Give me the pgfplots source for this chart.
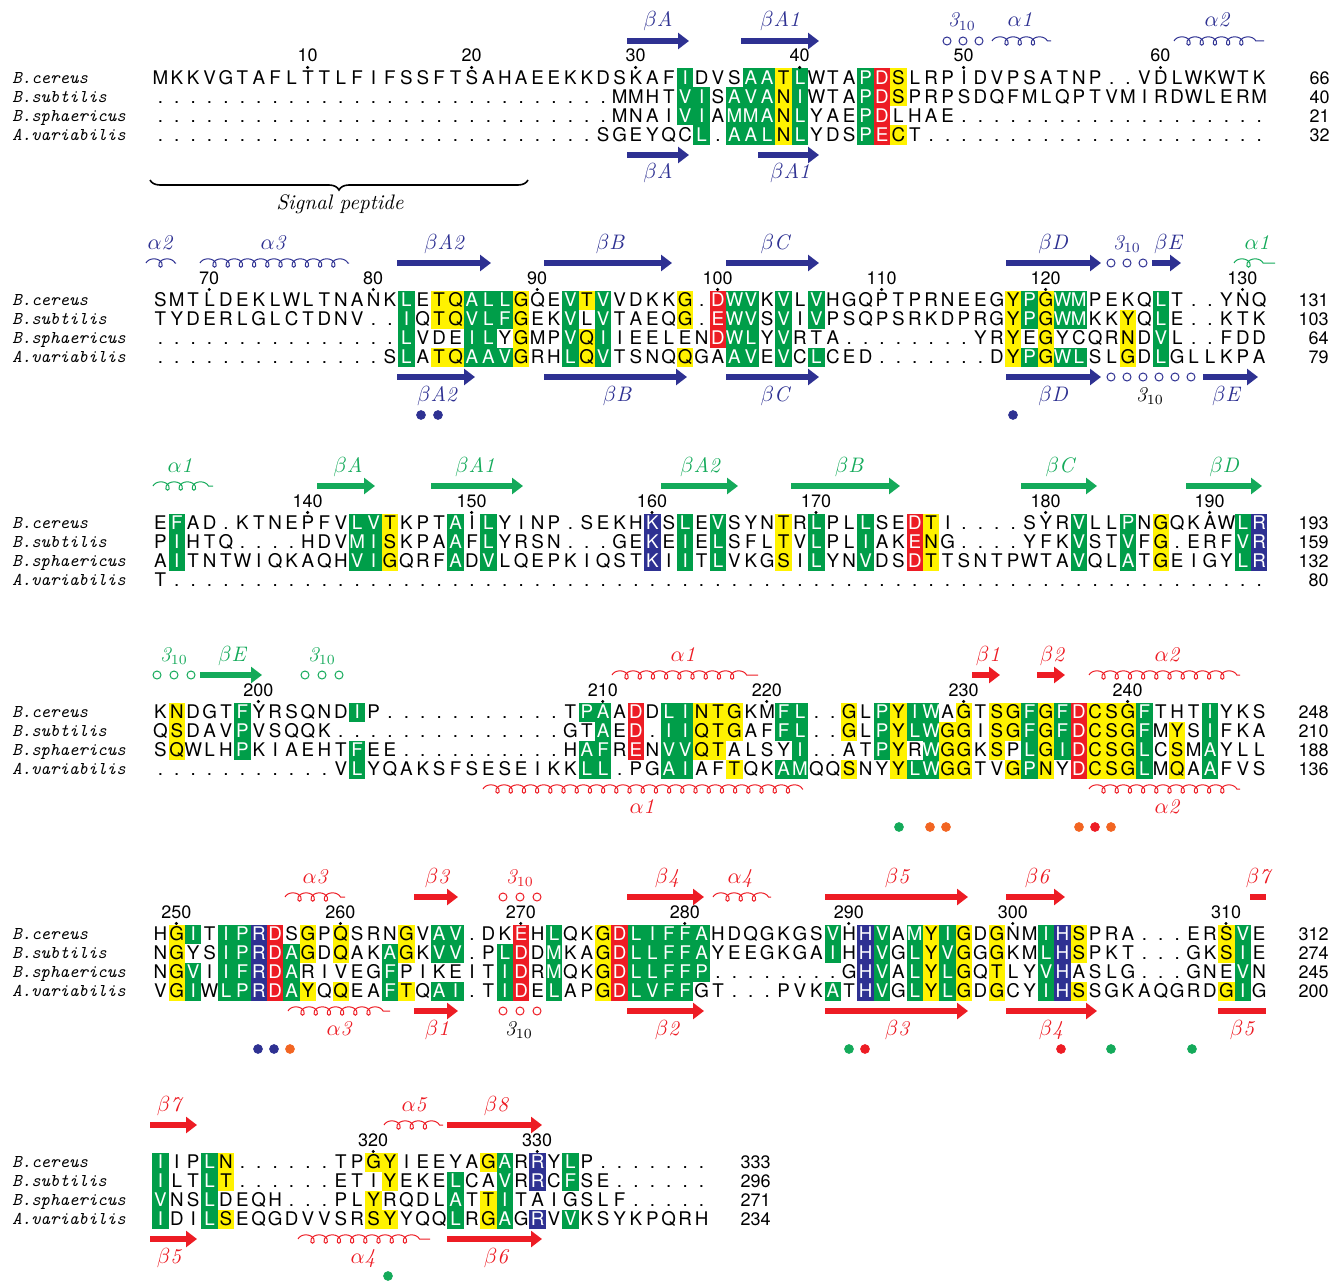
\documentclass[border=0pt]{standalone}
\usepackage{pgfplots}
\pgfplotsset{compat=1.18}
\usepackage{fontspec}
\usetikzlibrary{arrows.meta,decorations.pathmorphing,decorations.pathreplacing}
\newfontfamily\heros{TeX Gyre Heros}
\definecolor{sgreen}{RGB}{0,158,73}
\definecolor{syellow}{RGB}{255,242,0}
\definecolor{sred}{RGB}{237,28,36}
\definecolor{sblue}{RGB}{46,49,146}
\definecolor{anavy}{RGB}{46,49,146}
\definecolor{agreen}{RGB}{20,170,90}
\definecolor{ared}{RGB}{237,28,36}
\definecolor{aorange}{RGB}{242,101,34}
\newlength\cw \setlength\cw{8.2bp}
\def\cellc#1#2#3{\rlap{\color{#1}\rule[-1.4bp]{\cw}{9.5bp}}\makebox[\cw]{\color{#2}#3}}
\def\cell#1#2{\if#1|\else
  \if#2g\cellc{sgreen}{white}{#1}\else
  \if#2y\cellc{syellow}{black}{#1}\else
  \if#2r\cellc{sred}{white}{#1}\else
  \if#2b\cellc{sblue}{white}{#1}\else
  \makebox[\cw]{#1}\fi\fi\fi\fi\fi}
\def\seqloop#1#2\relax#3#4\relax{\cell{#1}{#3}\ifx\relax#2\relax\else\seqloop#2\relax#4\relax\fi}
\newcommand\seqrow[2]{\seqloop#1\relax#2\relax}
\newcommand\srow[3]{\node[anchor=base west,inner sep=0pt,font=\heros\fontsize{9.4bp}{11bp}\selectfont] at (axis cs:151.8,#1) {\seqrow{#2}{#3}};}
\newcommand\spn[2]{\node[anchor=base west,inner sep=0pt,font=\ttfamily\itshape\fontsize{9bp}{10bp}\selectfont] at (axis cs:12,#1) {#2};}
\newcommand\rnum[3]{\node[anchor=base east,inner sep=0pt,font=\heros\fontsize{9bp}{10bp}\selectfont] at (axis cs:#1,#2) {#3};}
\newcommand\tlab[3]{\node[anchor=base,inner sep=0pt,font=\heros\fontsize{9bp}{10bp}\selectfont] at (axis cs:#1,#2) {#3};}
\newcommand\strand[4]{\addplot[#1,no marks,line width=3.2bp,-{Triangle[length=5.5bp,width=8bp]}] coordinates {(#2,#4) (#3,#4)};}
\newcommand\sbar[4]{\addplot[#1,no marks,line width=3.2bp] coordinates {(#2,#4) (#3,#4)};}
\newcommand\helix[4]{\addplot[#1,no marks,line width=0.5bp,decorate,decoration={coil,aspect=1.1,amplitude=2.1bp,segment length=6.6bp}] coordinates {(#2,#4) (#3,#4)};}
\newcommand\lbl[4]{\node[anchor=base,text=#1,inner sep=0pt,font=\fontsize{10.5bp}{12bp}\selectfont] at (axis cs:#2,#3) {$#4$};}
\newcommand\circs[2]{\addplot[#1,only marks,mark=o,mark size=2bp,mark options={line width=0.5bp}] coordinates {#2};}
\newcommand\bdots[2]{\addplot[#1,only marks,mark=*,mark size=2.2bp] coordinates {#2};}
\begin{document}
\begin{tikzpicture}
\begin{axis}[x=0.5bp,y=0.5bp,xmin=0,xmax=1332,ymin=0,ymax=1281,y dir=reverse,hide axis,clip=false]
\addplot[draw=none,no marks,forget plot] coordinates {(0,0) (1332,1281)};
% ---------------- Block 1 ----------------
\strand{anavy}{627}{689}{41}\lbl{anavy}{658}{27}{\beta\mathit{A}}
\strand{anavy}{741}{819}{41}\lbl{anavy}{780}{27}{\beta\mathit{A1}}
\circs{anavy}{(947,41) (963,41) (979,41)}\lbl{anavy}{962}{27}{\mathit{3}_{10}}
\helix{anavy}{992}{1051}{41}\lbl{anavy}{1020}{27}{\alpha\mathit{1}}
\helix{anavy}{1174}{1264}{41}\lbl{anavy}{1217}{27}{\alpha\mathit{2}}
\strand{anavy}{627}{689}{155}\lbl{anavy}{658}{179}{\beta\mathit{A}}
\strand{anavy}{758}{819}{155}\lbl{anavy}{790}{179}{\beta\mathit{A1}}
\addplot[black,no marks,line width=0.8bp,decorate,decoration={brace,mirror,amplitude=5bp}] coordinates {(150,180) (528,180)};
\node[font=\itshape\fontsize{10.5bp}{12bp}\selectfont] at (axis cs:340,204) {Signal peptide};
\addplot[black,only marks,mark=*,mark size=0.55bp] coordinates {(307.6,67.5) (471.6,67.5) (635.6,67.5) (799.6,67.5) (963.6,67.5) (1160.4,67.5)};
\tlab{307.6}{62}{10}\tlab{471.6}{62}{20}\tlab{635.6}{62}{30}\tlab{799.6}{62}{40}\tlab{963.6}{62}{50}\tlab{1160.4}{62}{60}
\spn{83.5}{B.cereus}\spn{102.5}{B.subtilis}\spn{121.5}{B.sphaericus}\spn{140.5}{A.variabilis}
\srow{84.7}{MKKVGTAFLT|TLFIFSSFTS|AHAEEKKDSK|AFIDVSAATL|WTAPDSLRPI|DVPSATNP..|VDLWKWTK}{..........|..........|..........|..g...ggyg|...gry....|..........|........}
\srow{103.7}{..........|..........|........MM|HTVISAVANI|WTAPDSPRPS|DQFMLQPTVM|IRDWLERM}{..........|..........|..........|..gg.gggyg|...gry....|..........|........}
\srow{122.7}{..........|..........|........MN|AIVIAMMANL|YAEPDLHAE.|..........|........}{..........|..........|..........|..gg.gggyg|...gr.....|..........|........}
\srow{141.7}{..........|..........|.......SGE|YQCL.AALNL|YDSPECT...|..........|........}{..........|..........|..........|...g.gggyg|...gry....|..........|........}
\rnum{1330}{84.7}{66}\rnum{1330}{103.7}{40}\rnum{1330}{122.7}{21}\rnum{1330}{141.7}{32}
% ---------------- Block 2 ----------------
\helix{anavy}{146}{176}{263}\lbl{anavy}{160}{249}{\alpha\mathit{2}}
\helix{anavy}{200}{349}{263}\lbl{anavy}{273}{249}{\alpha\mathit{3}}
\strand{anavy}{397}{491}{263}\lbl{anavy}{444}{249}{\beta\mathit{A2}}
\strand{anavy}{544}{672}{263}\lbl{anavy}{610}{249}{\beta\mathit{B}}
\strand{anavy}{726}{819}{263}\lbl{anavy}{775}{249}{\beta\mathit{C}}
\strand{anavy}{1006}{1101}{263}\lbl{anavy}{1053}{249}{\beta\mathit{D}}
\circs{anavy}{(1111,263) (1127,263) (1143,263)}\lbl{anavy}{1127}{249}{\mathit{3}_{10}}
\strand{anavy}{1152}{1181}{263}\lbl{anavy}{1168}{249}{\beta\mathit{E}}
\helix{agreen}{1234}{1275}{263}\lbl{agreen}{1257}{249}{\alpha\mathit{1}}
\strand{anavy}{397}{475}{377}\lbl{anavy}{437}{401}{\beta\mathit{A2}}
\strand{anavy}{544}{687}{377}\lbl{anavy}{617}{401}{\beta\mathit{B}}
\strand{anavy}{726}{819}{377}\lbl{anavy}{775}{401}{\beta\mathit{C}}
\strand{anavy}{1006}{1101}{377}\lbl{anavy}{1053}{401}{\beta\mathit{D}}
\circs{anavy}{(1111,377) (1127,377) (1143,377) (1159,377) (1175,377) (1191,377)}\lbl{black}{1150}{401}{\mathit{3}_{10}}
\strand{anavy}{1203}{1258}{377}\lbl{anavy}{1226}{401}{\beta\mathit{E}}
\bdots{anavy}{(421,415) (438,415) (1013,415)}
\addplot[black,only marks,mark=*,mark size=0.55bp] coordinates {(209.2,289.5) (373.2,289.5) (537.2,289.5) (717.6,289.5) (881.6,289.5) (1045.6,289.5) (1242.4,289.5)};
\tlab{209.2}{284}{70}\tlab{373.2}{284}{80}\tlab{537.2}{284}{90}\tlab{717.6}{284}{100}\tlab{881.6}{284}{110}\tlab{1045.6}{284}{120}\tlab{1242.4}{284}{130}
\spn{305.5}{B.cereus}\spn{324.5}{B.subtilis}\spn{343.5}{B.sphaericus}\spn{362.5}{A.variabilis}
\srow{306.7}{SMTLDEKLWL|TNANKLETQA|LLGQEVTVVD|KKG.DWVKVL|VHGQPTPRNE|EGYPGWMPEK|QLT..YNQ}{..........|.....g.yyg|ggy..gyg..|..y.rgg.g.|g.........|..ygygg...|.g......}
\srow{325.7}{TYDERLGLCT|DNV..IQTQV|LFGEKVLVTA|EQG.EWVSVI|VPSQPSRKDP|RGYPGWMKKY|QLE..KTK}{..........|.....g.yyg|ggy..g.g..|..y.rgg.g.|g.........|..ygygg..y|.g......}
\srow{344.7}{..........|.....LVDEI|LYGMPVQIIE|ELENDWLYVR|TA........|YRYEGYCQRN|DVL..FDD}{..........|.....g...g|g.y..gyg..|....rgg.g.|..........|..y.y....y|.g......}
\srow{363.7}{..........|....SLATQA|AVGRHLQVTS|NQQGAAVEVC|LCED......|.DYPGWLSLG|DLGLLKPA}{..........|.....g.yyg|ggy..gyg..|..y..gg.g.|g.........|..ygygg..y|.g......}
\rnum{1329}{306.7}{131}\rnum{1329}{325.7}{103}\rnum{1329}{344.7}{64}\rnum{1329}{363.7}{79}
% ---------------- Block 3 ----------------
\helix{agreen}{153}{213}{486}\lbl{agreen}{180}{472}{\alpha\mathit{1}}
\strand{agreen}{317}{375}{486}\lbl{agreen}{348}{472}{\beta\mathit{A}}
\strand{agreen}{431}{523}{486}\lbl{agreen}{475}{472}{\beta\mathit{A1}}
\strand{agreen}{661}{738}{486}\lbl{agreen}{700}{472}{\beta\mathit{A2}}
\strand{agreen}{791}{900}{486}\lbl{agreen}{849}{472}{\beta\mathit{B}}
\strand{agreen}{1021}{1097}{486}\lbl{agreen}{1060}{472}{\beta\mathit{C}}
\strand{agreen}{1186}{1262}{486}\lbl{agreen}{1224}{472}{\beta\mathit{D}}
\addplot[black,only marks,mark=*,mark size=0.55bp] coordinates {(307.6,512.5) (471.6,512.5) (652,512.5) (816,512.5) (1045.6,512.5) (1209.6,512.5)};
\tlab{307.6}{507}{140}\tlab{471.6}{507}{150}\tlab{652}{507}{160}\tlab{816}{507}{170}\tlab{1045.6}{507}{180}\tlab{1209.6}{507}{190}
\spn{528.5}{B.cereus}\spn{547.5}{B.subtilis}\spn{566.5}{B.sphaericus}\spn{585.5}{A.variabilis}
\srow{529.7}{EFAD.KTNEP|FVLVTKPTAI|LYINP.SEKH|KSLEVSYNTR|LPLLSEDTI.|...SYRVLLP|NGQKAWLR}{.g........|..ggy...g.|g.........|b.g.g...y.|g..g..ry..|......g..g|.y....gb}
\srow{548.7}{PIHTQ....H|DVMISKPAAF|LYRSN...GE|KEIELSFLTV|LPLIAKENG.|...YFKVSTV|FG.ERFVR}{.g........|..ggy...g.|g.........|b.g.g...y.|g..g..ry..|......g..g|.y....gb}
\srow{567.7}{AITNTWIQKA|QHVIGQRFAD|VLQEPKIQST|KIITLVKGSI|LYNVDSDTTS|NTPWTAVQLA|TGEIGYLR}{.g........|..ggy...g.|g.........|b.g.g...y.|g..g..ry..|......g..g|.y....gb}
\srow{586.7}{T.........|..........|..........|..........|..........|..........|........}{..........|..........|..........|..........|..........|..........|........}
\rnum{1329}{529.7}{193}\rnum{1329}{548.7}{159}\rnum{1329}{567.7}{132}\rnum{1329}{586.7}{80}
% ---------------- Block 4 ----------------
\circs{agreen}{(157,675) (174,675) (191,675)}\lbl{agreen}{174}{661}{\mathit{3}_{10}}
\strand{agreen}{200}{262}{675}\lbl{agreen}{232}{661}{\beta\mathit{E}}
\circs{agreen}{(305,675) (322,675) (339,675)}\lbl{agreen}{322}{661}{\mathit{3}_{10}}
\helix{ared}{612}{758}{675}\lbl{ared}{683}{661}{\alpha\mathit{1}}
\strand{ared}{972}{1000}{675}\lbl{ared}{988}{661}{\beta\mathit{1}}
\strand{ared}{1037}{1065}{675}\lbl{ared}{1052}{661}{\beta\mathit{2}}
\helix{ared}{1089}{1240}{675}\lbl{ared}{1167}{661}{\alpha\mathit{2}}
\helix{ared}{483}{803}{789}\lbl{ared}{642}{813}{\alpha\mathit{1}}
\helix{ared}{1089}{1240}{789}\lbl{ared}{1167}{813}{\alpha\mathit{2}}
\bdots{agreen}{(899,827)}
\bdots{aorange}{(930,827) (946,827) (1079,827) (1111,827)}
\bdots{ared}{(1095,827)}
\addplot[black,only marks,mark=*,mark size=0.55bp] coordinates {(258.4,701.5) (602.8,701.5) (766.8,701.5) (963.6,701.5) (1127.6,701.5)};
\tlab{258.4}{696}{200}\tlab{602.8}{696}{210}\tlab{766.8}{696}{220}\tlab{963.6}{696}{230}\tlab{1127.6}{696}{240}
\spn{717.5}{B.cereus}\spn{736.5}{B.subtilis}\spn{755.5}{B.sphaericus}\spn{774.5}{A.variabilis}
\srow{718.7}{KNDGTFYRSQ|NDIP......|.....TPAAD|DLINTGKMFL|..GLPYIWAG|TSGFGFDCSG|FTHTIYKS}{.y...g....|..g.......|......gg.r|.ggyyy..gg|..y.gygg.y|.yygygryyy|g...g...}
\srow{737.7}{QSDAVPVSQQ|K.........|.....GTAED|.IIQTGAFFL|..GLPYLWGG|ISGFGFDCSG|FMYSIFKA}{.y...g....|..........|.......g.r|.ggyyy..gg|..y.gyggyy|.yygygryyy|g.y.g...}
\srow{756.7}{SQWLHPKIAE|HTFEE.....|.....HAFRE|NVVQTALSYI|..ATPYRWGG|KSPLGIDCSG|LCSMAYLL}{.y...g....|..g.......|......gg.r|.ggyy....g|....gy.gyy|.y.gygryyy|g.y.g...}
\srow{775.7}{..........|.VLYQAKSFS|ESEIKKLL.P|GAIAFTQKAM|QQSNYYLWGG|TVGPNYDCSG|LMQAAFVS}{..........|..g.......|......gg..|.gg..y..gg|..y..yggyy|..ygy.ryyy|g.y.g...}
\rnum{1329}{718.7}{248}\rnum{1329}{737.7}{210}\rnum{1329}{756.7}{188}\rnum{1329}{775.7}{136}
% ---------------- Block 5 ----------------
\helix{ared}{285}{345}{897}\lbl{ared}{315}{883}{\alpha\mathit{3}}
\strand{ared}{414}{458}{897}\lbl{ared}{437}{883}{\beta\mathit{3}}
\circs{ared}{(503,897) (520,897) (537,897)}\lbl{ared}{520}{883}{\mathit{3}_{10}}
\strand{ared}{627}{704}{897}\lbl{ared}{667}{883}{\beta\mathit{4}}
\helix{ared}{713}{771}{897}\lbl{ared}{740}{883}{\alpha\mathit{4}}
\strand{ared}{825}{968}{897}\lbl{ared}{897}{883}{\beta\mathit{5}}
\strand{ared}{1006}{1065}{897}\lbl{ared}{1037}{883}{\beta\mathit{6}}
\sbar{ared}{1250}{1266}{897}\lbl{ared}{1258}{883}{\beta\mathit{7}}
\helix{ared}{288}{390}{1011}\lbl{ared}{339}{1035}{\alpha\mathit{3}}
\strand{ared}{414}{458}{1011}\lbl{ared}{437}{1035}{\beta\mathit{1}}
\circs{ared}{(503,1011) (520,1011) (537,1011)}\lbl{black}{519}{1035}{\mathit{3}_{10}}
\strand{ared}{627}{704}{1011}\lbl{ared}{667}{1035}{\beta\mathit{2}}
\strand{ared}{825}{968}{1011}\lbl{ared}{897}{1035}{\beta\mathit{3}}
\strand{ared}{1006}{1097}{1011}\lbl{ared}{1051}{1035}{\beta\mathit{4}}
\sbar{ared}{1218}{1266}{1011}\lbl{ared}{1242}{1035}{\beta\mathit{5}}
\bdots{anavy}{(258,1049) (274,1049)}
\bdots{aorange}{(290,1049)}
\bdots{agreen}{(849,1049) (1111,1049) (1192,1049)}
\bdots{ared}{(865,1049) (1061,1049)}
\addplot[black,only marks,mark=*,mark size=0.55bp] coordinates {(176.4,923.5) (340.4,923.5) (520.8,923.5) (684.8,923.5) (848.8,923.5) (1012.8,923.5) (1226,923.5)};
\tlab{176.4}{918}{250}\tlab{340.4}{918}{260}\tlab{520.8}{918}{270}\tlab{684.8}{918}{280}\tlab{848.8}{918}{290}\tlab{1012.8}{918}{300}\tlab{1226}{918}{310}
\spn{939.5}{B.cereus}\spn{958.5}{B.subtilis}\spn{977.5}{B.sphaericus}\spn{996.5}{A.variabilis}
\srow{940.7}{HGITIPRDSG|PQSRNGVAV.|DKEHLQKGDL|IFFAHDQGKG|SVHHVAMYIG|DGNMIHSPRA|...ERSVE}{.yg.ggbr.y|.y...y.gg.|..r.g..yrg|gggg......|.g.bg.gygy|.y..gby...|.....yg.}
\srow{959.7}{NGYSIPRDAG|DQAKAGKVV.|PLDDMKAGDL|LFFAYEEGKG|AIHHVGLYVG|GGKMLHSPKT|...GKSIE}{.y..ggbrgy|.y..gy.gg.|.gr.g..yrg|gggg......|.g.bg.gygy|.y..gby...|.....yg.}
\srow{978.7}{NGVIIFRDAR|IVEGFPIKEI|TIDRMQKGDL|LFFP......|..GHVALYLG|QTLYVHASLG|...GNEVN}{.yg.ggbrg.|....g.....|.gr.g..yrg|gggg......|...bg.gygy|.y..gb....|......g.}
\srow{997.7}{VGIWLPRDAY|QQEAFTQAI.|TIDELAPGDL|VFFGT...PV|KATHVGLYLG|DGCYIHSSGK|AQGRDGIG}{.yg.ggbrgy|.y..gy.gg.|.gr.g..yrg|ggg.......|.g.bg.gygy|.y..gby...|.....yg.}
\rnum{1329}{940.7}{312}\rnum{1329}{959.7}{274}\rnum{1329}{978.7}{245}\rnum{1329}{997.7}{200}
% ---------------- Block 6 ----------------
\strand{ared}{150}{197}{1125}\lbl{ared}{169}{1111}{\beta\mathit{7}}
\helix{ared}{384}{443}{1125}\lbl{ared}{414}{1111}{\alpha\mathit{5}}
\strand{ared}{447}{542}{1125}\lbl{ared}{496}{1111}{\beta\mathit{8}}
\strand{ared}{150}{197}{1239}\lbl{ared}{169}{1263}{\beta\mathit{5}}
\helix{ared}{298}{430}{1239}\lbl{ared}{363}{1263}{\alpha\mathit{4}}
\strand{ared}{447}{542}{1239}\lbl{ared}{496}{1263}{\beta\mathit{6}}
\bdots{agreen}{(388,1276)}
\addplot[black,only marks,mark=*,mark size=0.55bp] coordinates {(373.2,1151.5) (537.2,1151.5)};
\tlab{373.2}{1146}{320}\tlab{537.2}{1146}{330}
\spn{1167.5}{B.cereus}\spn{1186.5}{B.subtilis}\spn{1205.5}{B.sphaericus}\spn{1224.5}{A.variabilis}
\srow{1168.7}{IIPLN.....|.TPGYIEEYA|GARRYLP...|....}{g..gy.....|...yy.....|yg.b.g....|....}
\srow{1187.7}{ILTLT.....|.ETIYEKELC|AVRRCFSE..|....}{g..gy.....|....y...g.|.g.b.g....|....}
\srow{1206.7}{VNSLDEQH..|.PLYRQDLAT|TITAIGSLF.|....}{g..g......|...y....g.|yg........|....}
\srow{1225.7}{IDILSEQGDV|VSRSYYQQLR|GAGRVVKSYK|PQRH}{g..gy.....|...yy...g.|yg.b.g....|....}
\rnum{771}{1168.7}{333}\rnum{771}{1187.7}{296}\rnum{771}{1206.7}{271}\rnum{771}{1225.7}{234}
\end{axis}
\end{tikzpicture}
\end{document}
